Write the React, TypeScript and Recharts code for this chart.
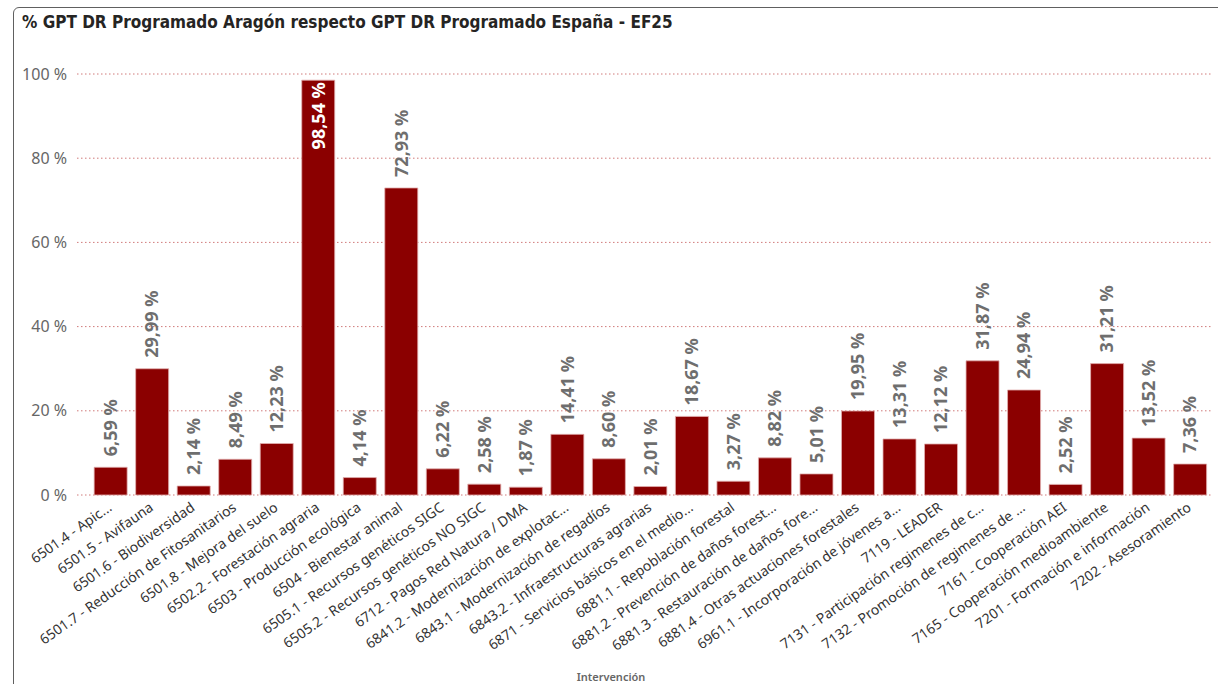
import React from 'react';
import { BarChart, Bar, XAxis, YAxis, CartesianGrid, LabelList } from 'recharts';

const categories = [
  '6501.4 - Apic...',
  '6501.5 - Avifauna',
  '6501.6 - Biodiversidad',
  '6501.7 - Reducción de Fitosanitarios',
  '6501.8 - Mejora del suelo',
  '6502.2 - Forestación agraria',
  '6503 - Producción ecológica',
  '6504 - Bienestar animal',
  '6505.1 - Recursos genéticos SIGC',
  '6505.2 - Recursos genéticos NO SIGC',
  '6712 - Pagos Red Natura / DMA',
  '6841.2 - Modernización de explotac...',
  '6843.1 - Modernización de regadíos',
  '6843.2 - Infraestructuras agrarias',
  '6871 - Servicios básicos en el medio...',
  '6881.1 - Repoblación forestal',
  '6881.2 - Prevención de daños forest...',
  '6881.3 - Restauración de daños fore...',
  '6881.4 - Otras actuaciones forestales',
  '6961.1 - Incorporación de jóvenes a...',
  '7119 - LEADER',
  '7131 - Participación regimenes de c...',
  '7132 - Promoción de regimenes de ...',
  '7161 - Cooperación AEI',
  '7165 - Cooperación medioambiente',
  '7201 - Formación e información',
  '7202 - Asesoramiento',
];

const values = [
  6.59, 29.99, 2.14, 8.49, 12.23, 98.54, 4.14, 72.93, 6.22, 2.58, 1.87, 14.41, 8.6, 2.01,
  18.67, 3.27, 8.82, 5.01, 19.95, 13.31, 12.12, 31.87, 24.94, 2.52, 31.21, 13.52, 7.36,
];

const yTicks = [0, 20, 40, 60, 80, 100];

const data = categories.map((name, i) => ({ name, value: values[i] }));

const fmt = (v: number) => v.toFixed(2).replace('.', ',') + ' %';

const XTick = (props: any) => {
  const { x, y, payload } = props;
  return (
    <text
      transform={`translate(${x - 4},${y + 6}) rotate(-35)`}
      textAnchor="end"
      dy="0.75em"
      fontSize={14}
      fill="#333333"
      fontFamily="Noto Sans"
    >
      {payload.value}
    </text>
  );
};

const BarLabel = (props: any) => {
  const { x, y, width, value } = props;
  const cx = x + width / 2;
  const inside = value > 90;
  if (inside) {
    return (
      <text
        transform={`translate(${cx},${y + 2}) rotate(-90)`}
        textAnchor="end"
        dy="0.35em"
        fontSize={18}
        fontWeight={700}
        fill="#ffffff"
        fontFamily="Noto Sans"
      >
        {fmt(value)}
      </text>
    );
  }
  return (
    <text
      transform={`translate(${cx},${y - 11}) rotate(-90)`}
      textAnchor="start"
      dy="0.35em"
      fontSize={18}
      fontWeight={700}
      fill="#6e6e6e"
      fontFamily="Noto Sans"
    >
      {fmt(value)}
    </text>
  );
};

export default function App() {
  return (
    <div style={{ position: 'absolute', left: 0, top: 0, width: 1218, height: 684, background: '#fff', overflow: 'hidden' }}>
      <div
        style={{
          position: 'absolute',
          left: 13,
          top: 7,
          width: 1230,
          height: 700,
          border: '1.5px solid #606060',
          borderRadius: 6,
          boxSizing: 'border-box',
        }}
      />
      <div
        style={{
          position: 'absolute',
          left: 22,
          top: 12,
          fontFamily: 'DejaVu Sans Condensed',
          fontWeight: 700,
          fontSize: 17,
          color: '#252423',
          whiteSpace: 'nowrap',
        }}
      >
        % GPT DR Programado Aragón respecto GPT DR Programado España - EF25
      </div>
      <div style={{ position: 'absolute', left: 0, top: 0 }}>
        <BarChart
          width={1218}
          height={684}
          data={data}
          margin={{ top: 74, right: 7, bottom: 0, left: 0 }}
          barCategoryGap="10%"
        >
          <CartesianGrid vertical={false} stroke="#d07a7a" strokeDasharray="1.5 2.5" strokeWidth={1} />
          <XAxis
            dataKey="name"
            interval={0}
            height={189}
            tick={<XTick />}
            tickLine={false}
            axisLine={false}
            tickSize={0}
            tickMargin={0}
            padding={{ left: 13, right: 0 }}
            label={{
              value: 'Intervención',
              position: 'insideBottom',
              offset: 3,
              dx: -33,
              style: { fontFamily: 'Noto Sans', fontSize: 11, fontWeight: 600, fill: '#666666' },
            }}
          />
          <YAxis
            width={77}
            domain={[0, 100]}
            ticks={yTicks}
            tickFormatter={(v: number) => `${v} %`}
            tickLine={false}
            axisLine={false}
            tickSize={0}
            tickMargin={10}
            tick={{ fontFamily: 'Noto Sans', fontSize: 16, fill: '#666666' }}
          />
          <Bar dataKey="value" fill="#8B0000" stroke="#e2b0b0" strokeWidth={0.8} isAnimationActive={false}>
            <LabelList dataKey="value" content={<BarLabel />} />
          </Bar>
        </BarChart>
      </div>
    </div>
  );
}
